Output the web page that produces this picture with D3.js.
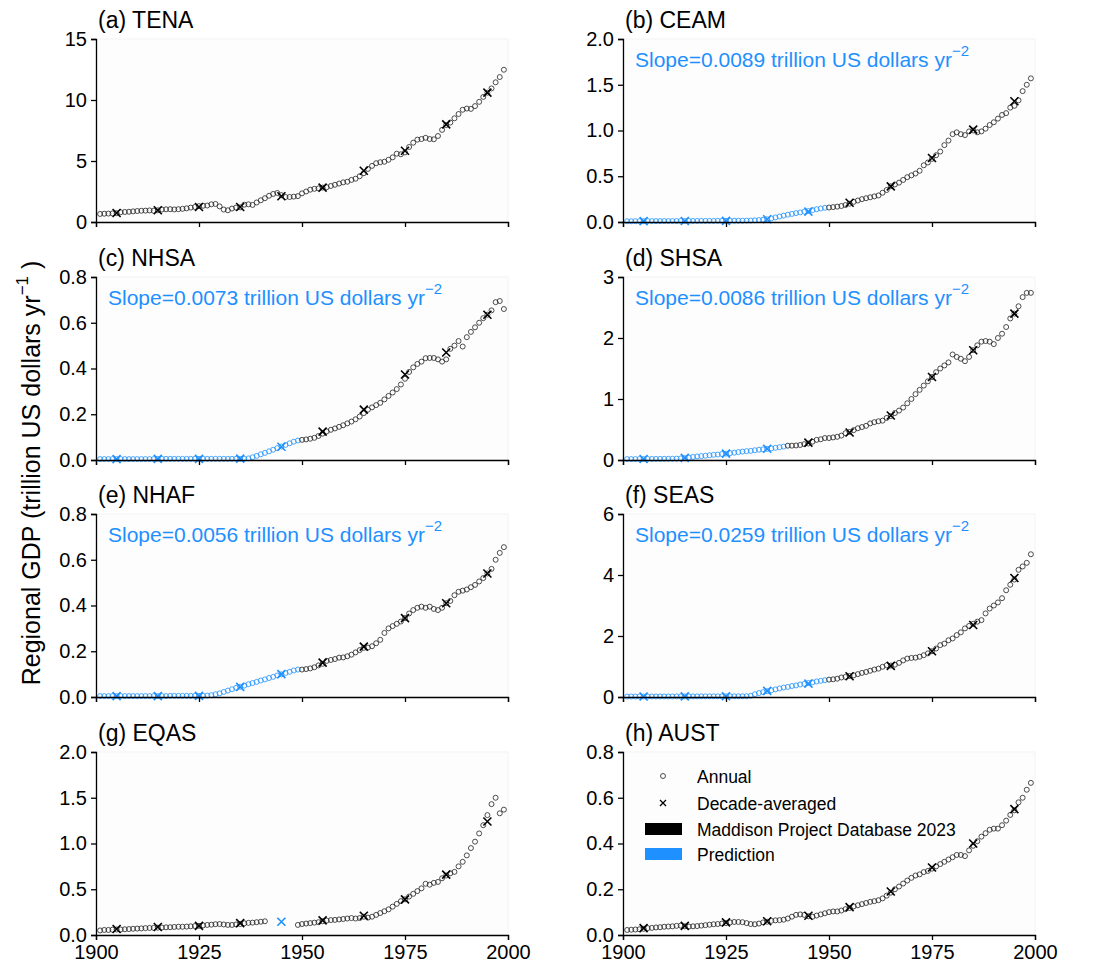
<!DOCTYPE html>
<html>
<head>
<meta charset="utf-8">
<script src="https://cdn.jsdelivr.net/npm/d3@7"></script>
<style>
  body { margin: 0; background: #fff; }
  svg { font-family: "Liberation Sans", Arial, sans-serif; }
</style>
</head>
<body>
<div id="vis"></div>
<script>
// Frame
const FRAME_WIDTH = 1094;
const FRAME_HEIGHT = 970;

// Years of annual values (1901-1999) and decade-averaged markers
const YEARS = d3.range(1901, 2000);
const DECADES = [1905, 1915, 1925, 1935, 1945, 1955, 1965, 1975, 1985, 1995];
const X_TICKS = [1900, 1925, 1950, 1975, 2000];

// Regional GDP, trillion US dollars per year (rows: 1901-09, then one row per decade)
const TENA_ANNUAL = [
  0.66, 0.68, 0.69, 0.70, 0.72, 0.80, 0.82, 0.84, 0.87,
  0.90, 0.92, 0.93, 0.95, 0.92, 0.96, 1.02, 1.04, 1.05, 1.03,
  1.05, 1.08, 1.12, 1.18, 1.23, 1.30, 1.33, 1.35, 1.45, 1.48,
  1.28, 1.02, 0.96, 1.10, 1.18, 1.20, 1.42, 1.45, 1.40, 1.60,
  1.78, 1.95, 2.15, 2.30, 2.38, 2.20, 2.05, 2.05, 2.08, 2.12,
  2.35, 2.50, 2.65, 2.72, 2.75, 2.82, 2.85, 2.95, 3.05, 3.15,
  3.25, 3.30, 3.45, 3.55, 3.75, 4.00, 4.35, 4.60, 4.82, 4.90,
  4.94, 5.10, 5.30, 5.60, 5.55, 5.70, 6.15, 6.50, 6.75, 6.80,
  6.90, 6.80, 6.78, 7.05, 7.55, 7.95, 8.15, 8.50, 8.85, 9.20,
  9.30, 9.27, 9.50, 9.85, 10.25, 10.60, 10.95, 11.45, 11.88, 12.48
];
const TENA_DECADE = [0.74, 0.96, 1.23, 1.23, 2.11, 2.82, 4.20, 5.84, 8.00, 10.60];

const CEAM_ANNUAL = [
  0.008, 0.008, 0.009, 0.009, 0.009, 0.010, 0.010, 0.010, 0.010,
  0.010, 0.010, 0.010, 0.010, 0.011, 0.011, 0.011, 0.011, 0.011, 0.012,
  0.012, 0.012, 0.012, 0.013, 0.013, 0.013, 0.013, 0.014, 0.014, 0.014,
  0.015, 0.016, 0.018, 0.021, 0.025, 0.030, 0.040, 0.050, 0.060, 0.070,
  0.080, 0.088, 0.097, 0.105, 0.113, 0.120, 0.130, 0.140, 0.148, 0.155,
  0.158, 0.163, 0.168, 0.175, 0.185, 0.200, 0.220, 0.235, 0.250, 0.260,
  0.270, 0.280, 0.290, 0.320, 0.350, 0.390, 0.410, 0.430, 0.460, 0.490,
  0.510, 0.530, 0.560, 0.620, 0.650, 0.690, 0.730, 0.770, 0.840, 0.890,
  0.960, 0.980, 0.960, 0.950, 0.990, 1.000, 0.980, 0.990, 1.020, 1.060,
  1.090, 1.130, 1.170, 1.190, 1.250, 1.270, 1.330, 1.430, 1.500, 1.570
];
const CEAM_DECADE = [0.010, 0.011, 0.013, 0.030, 0.114, 0.210, 0.390, 0.700, 1.010, 1.320];

const NHSA_ANNUAL = [
  0.004, 0.004, 0.004, 0.004, 0.004, 0.004, 0.004, 0.004, 0.004,
  0.004, 0.004, 0.004, 0.004, 0.004, 0.005, 0.005, 0.005, 0.005, 0.005,
  0.005, 0.005, 0.005, 0.005, 0.005, 0.005, 0.005, 0.005, 0.005, 0.005,
  0.005, 0.005, 0.005, 0.005, 0.005, 0.005, 0.005, 0.007, 0.012, 0.018,
  0.025, 0.031, 0.038, 0.045, 0.052, 0.059, 0.066, 0.073, 0.080, 0.085,
  0.088, 0.090, 0.093, 0.097, 0.105, 0.115, 0.125, 0.132, 0.138, 0.145,
  0.152, 0.160, 0.168, 0.178, 0.190, 0.205, 0.220, 0.230, 0.240, 0.250,
  0.265, 0.280, 0.295, 0.310, 0.330, 0.355, 0.385, 0.405, 0.420, 0.430,
  0.445, 0.446, 0.446, 0.440, 0.430, 0.440, 0.486, 0.500, 0.520, 0.496,
  0.537, 0.560, 0.580, 0.600, 0.620, 0.635, 0.654, 0.690, 0.695, 0.660
];
const NHSA_DECADE = [0.004, 0.005, 0.005, 0.006, 0.058, 0.124, 0.220, 0.374, 0.470, 0.635];

const SHSA_ANNUAL = [
  0.015, 0.015, 0.015, 0.016, 0.016, 0.017, 0.017, 0.018, 0.018,
  0.019, 0.020, 0.020, 0.022, 0.025, 0.030, 0.040, 0.050, 0.058, 0.065,
  0.070, 0.078, 0.085, 0.090, 0.098, 0.105, 0.112, 0.120, 0.130, 0.138,
  0.145, 0.150, 0.160, 0.168, 0.175, 0.182, 0.190, 0.200, 0.210, 0.220,
  0.235, 0.235, 0.238, 0.246, 0.260, 0.270, 0.300, 0.330, 0.340, 0.360,
  0.360, 0.370, 0.380, 0.400, 0.440, 0.460, 0.490, 0.520, 0.540, 0.560,
  0.600, 0.620, 0.635, 0.645, 0.690, 0.720, 0.770, 0.810, 0.860, 0.930,
  1.000, 1.080, 1.150, 1.220, 1.290, 1.360, 1.440, 1.500, 1.550, 1.600,
  1.730, 1.690, 1.660, 1.620, 1.690, 1.800, 1.880, 1.940, 1.950, 1.940,
  1.900, 2.000, 2.070, 2.180, 2.320, 2.400, 2.520, 2.670, 2.740, 2.740
];
const SHSA_DECADE = [0.016, 0.035, 0.105, 0.185, 0.285, 0.450, 0.730, 1.360, 1.800, 2.400];

const NHAF_ANNUAL = [
  0.004, 0.004, 0.004, 0.004, 0.004, 0.004, 0.004, 0.004, 0.004,
  0.004, 0.004, 0.004, 0.004, 0.004, 0.004, 0.004, 0.004, 0.005, 0.005,
  0.005, 0.005, 0.005, 0.005, 0.005, 0.005, 0.005, 0.006, 0.008, 0.012,
  0.016, 0.022, 0.028, 0.034, 0.040, 0.045, 0.050, 0.056, 0.061, 0.066,
  0.072, 0.077, 0.083, 0.088, 0.094, 0.099, 0.105, 0.110, 0.116, 0.120,
  0.120, 0.122, 0.125, 0.130, 0.138, 0.145, 0.158, 0.162, 0.166, 0.172,
  0.173, 0.178, 0.185, 0.195, 0.205, 0.215, 0.216, 0.222, 0.235, 0.250,
  0.280, 0.300, 0.310, 0.320, 0.330, 0.345, 0.365, 0.380, 0.390, 0.395,
  0.390, 0.395, 0.385, 0.380, 0.390, 0.410, 0.420, 0.445, 0.460, 0.465,
  0.470, 0.480, 0.490, 0.505, 0.520, 0.540, 0.560, 0.600, 0.630, 0.655
];
const NHAF_DECADE = [0.004, 0.004, 0.005, 0.044, 0.100, 0.150, 0.220, 0.345, 0.410, 0.540];

const SEAS_ANNUAL = [
  0.015, 0.015, 0.015, 0.016, 0.016, 0.016, 0.017, 0.017, 0.017,
  0.018, 0.018, 0.018, 0.019, 0.019, 0.019, 0.020, 0.020, 0.020, 0.021,
  0.021, 0.021, 0.022, 0.022, 0.022, 0.023, 0.023, 0.023, 0.024, 0.024,
  0.025, 0.040, 0.090, 0.130, 0.160, 0.190, 0.220, 0.250, 0.280, 0.310,
  0.330, 0.360, 0.380, 0.410, 0.430, 0.460, 0.480, 0.510, 0.530, 0.550,
  0.570, 0.580, 0.600, 0.640, 0.660, 0.690, 0.710, 0.750, 0.790, 0.820,
  0.860, 0.900, 0.930, 0.990, 1.040, 1.030, 1.060, 1.120, 1.200, 1.260,
  1.280, 1.290, 1.320, 1.370, 1.430, 1.500, 1.590, 1.700, 1.750, 1.860,
  1.920, 2.030, 2.120, 2.250, 2.330, 2.400, 2.470, 2.520, 2.740, 2.900,
  3.000, 3.100, 3.240, 3.500, 3.680, 3.850, 4.170, 4.280, 4.400, 4.680
];
const SEAS_DECADE = [0.016, 0.019, 0.023, 0.200, 0.440, 0.680, 1.020, 1.500, 2.360, 3.900];

const EQAS_ANNUAL = [
  0.050, 0.055, 0.055, 0.058, 0.060, 0.060, 0.063, 0.065, 0.068,
  0.070, 0.072, 0.075, 0.077, 0.078, 0.080, 0.082, 0.084, 0.085, 0.088,
  0.090, 0.090, 0.092, 0.095, 0.098, 0.100, 0.105, 0.110, 0.113, 0.118,
  0.120, 0.115, 0.110, 0.110, 0.115, 0.120, 0.128, 0.133, 0.135, 0.140,
  0.145, 0.150, null, null, null, null, null, null, null, 0.110,
  0.120, 0.125, 0.130, 0.135, 0.140, 0.150, 0.158, 0.163, 0.165, 0.170,
  0.175, 0.180, 0.185, 0.180, 0.185, 0.200, 0.190, 0.200, 0.220, 0.240,
  0.260, 0.280, 0.310, 0.340, 0.370, 0.390, 0.420, 0.450, 0.480, 0.510,
  0.560, 0.550, 0.570, 0.580, 0.620, 0.650, 0.675, 0.690, 0.750, 0.800,
  0.870, 0.950, 1.020, 1.110, 1.200, 1.310, 1.430, 1.500, 1.330, 1.370
];
const EQAS_DECADE = [0.065, 0.087, 0.100, 0.130, 0.145, 0.160, 0.210, 0.390, 0.660, 1.240];

const AUST_ANNUAL = [
  0.022, 0.023, 0.024, 0.025, 0.027, 0.030, 0.031, 0.033, 0.034,
  0.036, 0.037, 0.038, 0.040, 0.041, 0.038, 0.037, 0.038, 0.039, 0.041,
  0.043, 0.045, 0.047, 0.048, 0.050, 0.052, 0.055, 0.057, 0.057, 0.056,
  0.052, 0.048, 0.047, 0.050, 0.055, 0.058, 0.062, 0.064, 0.065, 0.067,
  0.072, 0.080, 0.088, 0.090, 0.088, 0.082, 0.080, 0.085, 0.090, 0.095,
  0.100, 0.103, 0.103, 0.107, 0.113, 0.118, 0.125, 0.130, 0.135, 0.140,
  0.145, 0.148, 0.152, 0.160, 0.172, 0.185, 0.200, 0.212, 0.225, 0.238,
  0.250, 0.260, 0.265, 0.275, 0.280, 0.290, 0.300, 0.310, 0.320, 0.330,
  0.340, 0.350, 0.350, 0.345, 0.370, 0.390, 0.410, 0.430, 0.445, 0.460,
  0.465, 0.465, 0.480, 0.500, 0.525, 0.545, 0.580, 0.600, 0.635, 0.665
];
const AUST_DECADE = [0.030, 0.040, 0.055, 0.060, 0.084, 0.122, 0.190, 0.295, 0.400, 0.550];

// Y tick labels per panel
const TENA_TICKS = [0, 5, 10, 15];
const CEAM_TICKS = [0, 0.5, 1.0, 1.5, 2.0];
const NHSA_TICKS = [0, 0.2, 0.4, 0.6, 0.8];
const SHSA_TICKS = [0, 1, 2, 3];
const NHAF_TICKS = [0, 0.2, 0.4, 0.6, 0.8];
const SEAS_TICKS = [0, 2, 4, 6];
const EQAS_TICKS = [0, 0.5, 1.0, 1.5, 2.0];
const AUST_TICKS = [0, 0.2, 0.4, 0.6, 0.8];

// Slopes of the prediction segment (trillion US dollars yr^-2)
const SLOPES = { CEAM: "0.0089", NHSA: "0.0073", SHSA: "0.0086", NHAF: "0.0056", SEAS: "0.0259" };

// Panel setup: last predicted year and predicted decade markers
const PANELS = [
  { id: "a", name: "TENA", annual: TENA_ANNUAL, decade: TENA_DECADE, ticks: TENA_TICKS, fmt: "d",   predEnd: 1900, predDec: [] },
  { id: "b", name: "CEAM", annual: CEAM_ANNUAL, decade: CEAM_DECADE, ticks: CEAM_TICKS, fmt: ".1f", predEnd: 1949, predDec: [1905, 1915, 1925, 1935, 1945] },
  { id: "c", name: "NHSA", annual: NHSA_ANNUAL, decade: NHSA_DECADE, ticks: NHSA_TICKS, fmt: ".1f", predEnd: 1949, predDec: [1905, 1915, 1925, 1935, 1945] },
  { id: "d", name: "SHSA", annual: SHSA_ANNUAL, decade: SHSA_DECADE, ticks: SHSA_TICKS, fmt: "d",   predEnd: 1939, predDec: [1905, 1915, 1925, 1935] },
  { id: "e", name: "NHAF", annual: NHAF_ANNUAL, decade: NHAF_DECADE, ticks: NHAF_TICKS, fmt: ".1f", predEnd: 1949, predDec: [1905, 1915, 1925, 1935, 1945] },
  { id: "f", name: "SEAS", annual: SEAS_ANNUAL, decade: SEAS_DECADE, ticks: SEAS_TICKS, fmt: "d",   predEnd: 1949, predDec: [1905, 1915, 1925, 1935, 1945] },
  { id: "g", name: "EQAS", annual: EQAS_ANNUAL, decade: EQAS_DECADE, ticks: EQAS_TICKS, fmt: ".1f", predEnd: 1900, predDec: [1945] },
  { id: "h", name: "AUST", annual: AUST_ANNUAL, decade: AUST_DECADE, ticks: AUST_TICKS, fmt: ".1f", predEnd: 1900, predDec: [] }
];

// Layout
const COL_X = [96, 623];
const ROW_Y = [39, 277, 514, 752];
const VIS_WIDTH = 412;
const VIS_HEIGHT = 183;
const BLACK = "#222";
const BLUE = "#1E90FF";

const FRAME = d3.select("#vis")
  .append("svg")
    .attr("width", FRAME_WIDTH)
    .attr("height", FRAME_HEIGHT);

PANELS.forEach((p, i) => {
  const col = i % 2, row = Math.floor(i / 2);
  const g = FRAME.append("g")
    .attr("transform", "translate(" + COL_X[col] + "," + ROW_Y[row] + ")");

  const X_SCALE = d3.scaleLinear().domain([1900, 2000]).range([0, VIS_WIDTH]);
  const Y_SCALE = d3.scaleLinear().domain([0, d3.max(p.ticks)]).range([VIS_HEIGHT, 0]);

  // faint plot background
  g.append("rect")
    .attr("width", VIS_WIDTH).attr("height", VIS_HEIGHT)
    .attr("fill", "#fdfdfd").attr("stroke", "#f3f3f3");

  // annual circles
  const pts = YEARS.map((yr, k) => ({ yr: yr, v: p.annual[k] })).filter((d) => d.v !== null);
  g.selectAll("circle.annual")
    .data(pts)
    .enter()
    .append("circle")
      .attr("class", "annual")
      .attr("cx", (d) => X_SCALE(d.yr))
      .attr("cy", (d) => Y_SCALE(d.v))
      .attr("r", 2.5)
      .attr("fill", "none")
      .attr("stroke", (d) => d.yr <= p.predEnd ? BLUE : BLACK)
      .attr("stroke-width", 0.8);

  // decade-averaged crosses
  const dec = DECADES.map((yr, k) => ({ yr: yr, v: p.decade[k] }));
  g.selectAll("path.decade")
    .data(dec)
    .enter()
    .append("path")
      .attr("class", "decade")
      .attr("transform", (d) => "translate(" + X_SCALE(d.yr) + "," + Y_SCALE(d.v) + ")")
      .attr("d", "M-4,-4L4,4M-4,4L4,-4")
      .attr("stroke", (d) => p.predDec.includes(d.yr) ? BLUE : "#000")
      .attr("stroke-width", 1.6);

  // axes
  const xAxis = d3.axisBottom(X_SCALE).tickValues(X_TICKS).tickSize(5).tickPadding(5)
    .tickFormat(row === 3 ? d3.format("d") : () => "");
  g.append("g")
    .attr("transform", "translate(0," + VIS_HEIGHT + ")")
    .call(xAxis)
    .call((a) => a.selectAll("text").attr("font-size", "20px").attr("fill", "#000").attr("font-family", null));

  g.append("g")
    .call(d3.axisLeft(Y_SCALE).tickValues(p.ticks).tickSize(5).tickPadding(4).tickFormat(d3.format(p.fmt)))
    .call((a) => a.selectAll("text").attr("font-size", "20px").attr("fill", "#000").attr("font-family", null));

  g.selectAll(".domain").attr("stroke", "#000").attr("stroke-width", 1.3);
  g.selectAll(".tick line").attr("stroke", "#000").attr("stroke-width", 1.3);

  // panel title
  g.append("text")
    .attr("x", 2)
    .attr("y", -11)
    .attr("font-size", "23px")
    .text("(" + p.id + ") " + p.name);

  // slope annotation
  if (SLOPES[p.name]) {
    const t = g.append("text")
      .attr("x", 12)
      .attr("y", 28)
      .attr("font-size", "21px")
      .attr("fill", BLUE)
      .text("Slope=" + SLOPES[p.name] + " trillion US dollars yr");
    t.append("tspan").attr("dy", -11).attr("font-size", "15px").text("\u22122");
  }
});

// y-axis label
const yl = FRAME.append("text")
  .attr("transform", "translate(40,473) rotate(-90)")
  .attr("text-anchor", "middle")
  .attr("font-size", "25px")
  .text("Regional GDP (trillion US dollars yr");
yl.append("tspan").attr("dy", -12).attr("font-size", "17px").text("\u22121");
yl.append("tspan").attr("dy", 12).text(" )");

// legend in panel (h)
const LEGEND = FRAME.append("g").attr("transform", "translate(" + COL_X[1] + "," + ROW_Y[3] + ")");
const LX = 40, TX = 74, ROWS = [24, 51, 77, 102];
LEGEND.append("circle").attr("cx", LX).attr("cy", ROWS[0]).attr("r", 2.5)
  .attr("fill", "none").attr("stroke", BLACK).attr("stroke-width", 0.8);
LEGEND.append("path").attr("transform", "translate(" + LX + "," + ROWS[1] + ")")
  .attr("d", "M-3,-3L3,3M-3,3L3,-3").attr("stroke", "#000").attr("stroke-width", 1.3);
LEGEND.append("rect").attr("x", LX - 18).attr("y", ROWS[2] - 6).attr("width", 37).attr("height", 12).attr("fill", "#000");
LEGEND.append("rect").attr("x", LX - 18).attr("y", ROWS[3] - 6).attr("width", 37).attr("height", 12).attr("fill", BLUE);
["Annual", "Decade-averaged", "Maddison Project Database 2023", "Prediction"].forEach((s, k) => {
  LEGEND.append("text").attr("x", TX).attr("y", ROWS[k] + 7).attr("font-size", "17.5px").text(s);
});
</script>
</body>
</html>
